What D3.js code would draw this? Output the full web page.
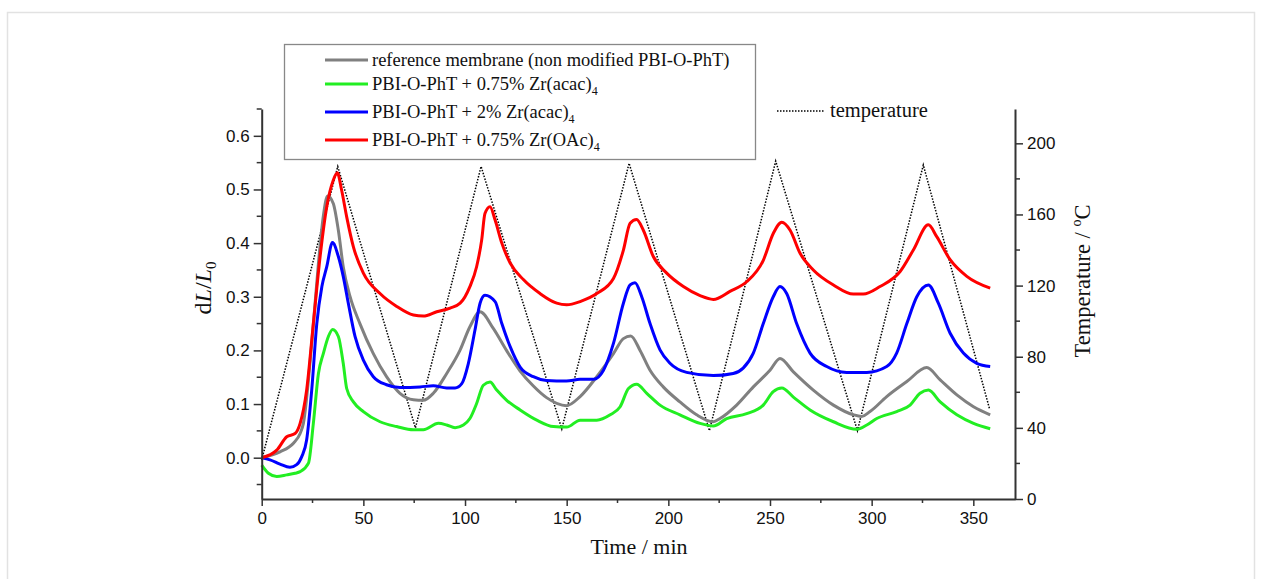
<!DOCTYPE html>
<html><head><meta charset="utf-8">
<script src="https://cdn.jsdelivr.net/npm/d3@7"></script>
<style>
html,body{margin:0;padding:0;background:#fff;}
svg{display:block;}
</style></head>
<body>
<svg id="chart" width="1263" height="579"></svg>
<script>
// ---------- DATA ----------
const xTicks = [0, 50, 100, 150, 200, 250, 300, 350];
const yLeftTicks = [0.0, 0.1, 0.2, 0.3, 0.4, 0.5, 0.6];
const yRightTicks = [0, 40, 80, 120, 160, 200];

const seriesNames = [
  "reference membrane (non modified PBI-O-PhT)",
  "PBI-O-PhT + 0.75% Zr(acac)",
  "PBI-O-PhT + 2% Zr(acac)",
  "PBI-O-PhT + 0.75% Zr(OAc)"
];
const seriesSubs = ["", "4", "4", "4"];
const seriesColors = ["#808080", "#22ee22", "#0000ff", "#ff0000"];

const greyT = [0,9,15.6,18.9,20.5,24.6,27.9,30.3,32.4,35.2,37.7,40.1,43.4,48.3,54.9,61.4,68,74.6,79.5,84.4,91,97.5,102.4,107.4,113.9,120.4,127,133.5,140.1,149.9,156.6,164.8,173,177.9,181.5,186.1,191,197.5,205.7,213.9,222.1,225.4,233.6,241.8,250,254.9,261.5,271.3,281.2,291,295.1,299.2,307.4,317.3,327.1,333.7,341.9,350.1,358.3];
const greyV = [0,0.011,0.027,0.045,0.064,0.213,0.362,0.45,0.488,0.474,0.424,0.356,0.301,0.25,0.194,0.151,0.12,0.108,0.107,0.12,0.157,0.2,0.244,0.272,0.241,0.2,0.162,0.134,0.112,0.097,0.114,0.151,0.194,0.222,0.227,0.2,0.163,0.132,0.104,0.08,0.067,0.073,0.098,0.132,0.163,0.185,0.16,0.126,0.098,0.08,0.077,0.086,0.114,0.142,0.168,0.145,0.117,0.095,0.08];

const greenT = [0,3.3,7.4,12.3,16.4,18.9,23,25.4,27.9,30.3,32.8,34.9,37.7,40.1,41.8,45.1,50,58.2,66.4,74.6,79.5,86.9,91,95.1,99.2,102.4,105.7,109,112.3,115.6,120.5,127.1,135.3,143.5,150,156.6,164.8,171.4,176.3,180.4,184.4,189.4,195.9,205.7,215.6,222.1,228.7,238.5,246.7,251.6,255.8,261.5,269.7,281.2,292.7,297.6,302.5,312.3,318.9,323.8,327.9,333.7,341.9,350.1,358.3];
const greenV = [-0.014,-0.029,-0.035,-0.032,-0.029,-0.026,-0.01,0.064,0.157,0.194,0.226,0.239,0.226,0.176,0.129,0.104,0.086,0.067,0.058,0.052,0.052,0.064,0.061,0.056,0.061,0.073,0.101,0.135,0.141,0.126,0.107,0.089,0.07,0.058,0.057,0.07,0.07,0.08,0.095,0.129,0.137,0.12,0.098,0.08,0.064,0.059,0.073,0.082,0.098,0.123,0.13,0.113,0.089,0.067,0.053,0.061,0.073,0.086,0.098,0.12,0.126,0.104,0.08,0.064,0.054];

const blueT = [0,4.1,9,13.9,17.2,19.7,22.1,24.6,27.1,29.6,32,34.8,37.7,40.1,42.6,45.9,50,54.9,61.4,68,77.9,84.4,91,95.1,98.4,101.6,104.9,107.4,109.8,114.8,118.1,122.2,127.1,133.6,140.1,149.9,156.6,163.2,168.1,173,177.9,181.2,183.6,186.9,191,195.9,200.8,209,222.1,231.9,236.8,241.8,246.7,251.6,254.9,258.2,263.1,269.7,277.9,287.7,297.6,307.4,312.3,317.3,322.2,327.9,332.8,338.6,345.1,351.7,358.3];
const blueV = [0,-0.004,-0.012,-0.018,-0.013,0.002,0.033,0.126,0.25,0.319,0.356,0.401,0.375,0.338,0.288,0.226,0.182,0.151,0.136,0.131,0.132,0.134,0.13,0.13,0.138,0.175,0.238,0.288,0.303,0.291,0.25,0.207,0.169,0.151,0.144,0.143,0.146,0.146,0.163,0.213,0.288,0.322,0.326,0.3,0.25,0.201,0.176,0.159,0.153,0.157,0.167,0.195,0.25,0.3,0.319,0.306,0.25,0.195,0.17,0.159,0.159,0.17,0.195,0.25,0.3,0.322,0.288,0.232,0.195,0.176,0.17];

const redT = [0,7.4,12.3,16.4,18.9,22.1,25.4,28.7,32,35.2,37.2,39.3,41.8,45.1,50,58.2,66.4,74.6,79.5,86.1,92.7,97.6,102.4,105.7,108.2,109.8,112.3,114.8,118.1,122.2,128.7,136.9,145.1,150,156.6,164.8,173,177.9,181.2,184.4,187.7,192.6,199.2,207.4,215.6,222.1,230.3,238.5,246.7,251.6,255.8,259.9,264.8,271.3,281.2,291,295.9,304.1,314,320.5,327.9,332,338.6,346.8,358.3];
const redV = [0,0.014,0.039,0.045,0.064,0.126,0.25,0.374,0.468,0.517,0.531,0.499,0.449,0.393,0.344,0.306,0.282,0.266,0.264,0.272,0.279,0.288,0.319,0.356,0.406,0.455,0.468,0.443,0.4,0.363,0.332,0.306,0.288,0.285,0.291,0.306,0.334,0.387,0.437,0.444,0.424,0.375,0.344,0.319,0.302,0.295,0.31,0.328,0.368,0.418,0.439,0.424,0.381,0.35,0.322,0.305,0.305,0.319,0.347,0.387,0.434,0.412,0.369,0.338,0.316];

const tempT = [0, 37.4, 75.6, 107.9, 147.6, 180.7, 220.2, 252.8, 293, 325.4, 357.9];
const tempV = [22, 187, 40, 187, 39.4, 188.8, 38.4, 190, 38.4, 187.8, 51];

const seriesT = [greyT, greenT, blueT, redT];
const seriesV = [greyV, greenV, blueV, redV];

// ---------- LAYOUT ----------
const svg = d3.select("#chart");
const L = 261.7, R = 1015, T = 109, B = 499;

svg.append("rect").attr("x", 7.5).attr("y", 12.5).attr("width", 1247).attr("height", 600)
  .attr("fill", "none").attr("stroke", "#e2e2e2").attr("stroke-width", 1.5);

const x = d3.scaleLinear().domain([0, 370.5]).range([L, R]);
const y = d3.scaleLinear().domain([-0.077, 0.65]).range([B, T]);
const y2 = d3.scaleLinear().domain([0, 219.3]).range([B, T]);

const sans = "'Liberation Sans', Arial, sans-serif";
const serif = "'Liberation Serif', 'Times New Roman', serif";

// Curves
const g = svg.append("g");
const line = d3.line().x(d => x(d[0])).y(d => y(d[1])).curve(d3.curveMonotoneX);
const line2 = d3.line().x(d => x(d[0])).y(d => y2(d[1]));

g.append("path").datum(tempT.map((t, i) => [t, tempV[i]]))
  .attr("d", line2).attr("fill", "none").attr("stroke", "#000")
  .attr("stroke-width", 1.5).attr("stroke-dasharray", "1.5,1.5");

seriesT.forEach((ts, k) => {
  g.append("path").datum(ts.map((t, i) => [t, seriesV[k][i]]))
    .attr("d", line).attr("fill", "none").attr("stroke", seriesColors[k])
    .attr("stroke-width", 3).attr("stroke-linejoin", "round");
});

// Axes
function styleAxis(sel) {
  sel.select(".domain").attr("stroke", "#333").attr("stroke-width", 2);
  sel.selectAll(".tick line").attr("stroke", "#333").attr("stroke-width", 1.5);
  sel.selectAll(".tick text").attr("font-family", sans).attr("font-size", "17px").attr("fill", "#111");
}
const xMinor = d3.range(25, 370, 50);
const yMinor = d3.range(-0.05, 0.66, 0.1);
const y2Minor = d3.range(20, 220, 40);

const gx = svg.append("g").attr("transform", `translate(0,${B})`)
  .call(d3.axisBottom(x).tickValues(xTicks).tickSize(7).tickPadding(6).tickSizeOuter(0).tickFormat(d3.format("d")));
styleAxis(gx);
gx.selectAll(".minor").data(xMinor).enter().append("line")
  .attr("x1", d => x(d)).attr("x2", d => x(d)).attr("y1", 0).attr("y2", 4)
  .attr("stroke", "#333").attr("stroke-width", 1.5);

const gy = svg.append("g").attr("transform", `translate(${L},0)`)
  .call(d3.axisLeft(y).tickValues(yLeftTicks).tickSize(8).tickPadding(4).tickSizeOuter(0).tickFormat(d3.format(".1f")));
styleAxis(gy);
gy.selectAll(".minor").data(yMinor).enter().append("line")
  .attr("y1", d => y(d)).attr("y2", d => y(d)).attr("x1", 0).attr("x2", -5)
  .attr("stroke", "#333").attr("stroke-width", 1.5);

const gy2 = svg.append("g").attr("transform", `translate(${R},0)`)
  .call(d3.axisRight(y2).tickValues(yRightTicks).tickSize(8).tickPadding(4).tickSizeOuter(0).tickFormat(d3.format("d")));
styleAxis(gy2);
gy2.selectAll(".minor").data(y2Minor).enter().append("line")
  .attr("y1", d => y2(d)).attr("y2", d => y2(d)).attr("x1", 0).attr("x2", 5)
  .attr("stroke", "#333").attr("stroke-width", 1.5);

// Axis titles
svg.append("text").attr("x", 639).attr("y", 554).attr("text-anchor", "middle")
  .attr("font-family", serif).attr("font-size", "22px").attr("fill", "#111").text("Time / min");

const yl = svg.append("text").attr("transform", "translate(211,288) rotate(-90)")
  .attr("text-anchor", "middle").attr("font-family", serif).attr("font-size", "24px").attr("fill", "#111");
yl.append("tspan").text("d");
yl.append("tspan").attr("font-style", "italic").text("L");
yl.append("tspan").text("/");
yl.append("tspan").attr("font-style", "italic").text("L");
yl.append("tspan").attr("font-size", "15px").attr("dy", 5).text("0");

const yr = svg.append("text").attr("transform", "translate(1090,281) rotate(-90)")
  .attr("text-anchor", "middle").attr("font-family", serif).attr("font-size", "22.5px").attr("fill", "#111");
yr.append("tspan").text("Temperature / ");
yr.append("tspan").attr("font-size", "14px").attr("dy", -9).text("o");
yr.append("tspan").attr("dy", 9).text("C");

// Legend
svg.append("rect").attr("x", 284.5).attr("y", 44.5).attr("width", 471).attr("height", 115)
  .attr("fill", "#fff").attr("stroke", "#888").attr("stroke-width", 1.3);
const legY = [60, 84, 112, 140];
seriesNames.forEach((name, k) => {
  svg.append("line").attr("x1", 325).attr("x2", 368).attr("y1", legY[k]).attr("y2", legY[k])
    .attr("stroke", seriesColors[k]).attr("stroke-width", 3);
  const tx = svg.append("text").attr("x", 372).attr("y", legY[k] + 6)
    .attr("font-family", serif).attr("font-size", "18.5px").attr("fill", "#111");
  tx.append("tspan").text(name);
  if (seriesSubs[k]) tx.append("tspan").attr("font-size", "12px").attr("dy", 5).text(seriesSubs[k]);
});
svg.append("line").attr("x1", 777).attr("x2", 825).attr("y1", 111).attr("y2", 111)
  .attr("stroke", "#000").attr("stroke-width", 1.5).attr("stroke-dasharray", "1.5,1.5");
svg.append("text").attr("x", 830).attr("y", 117).attr("font-family", serif).attr("font-size", "20.5px")
  .attr("fill", "#111").text("temperature");
</script>
</body></html>
